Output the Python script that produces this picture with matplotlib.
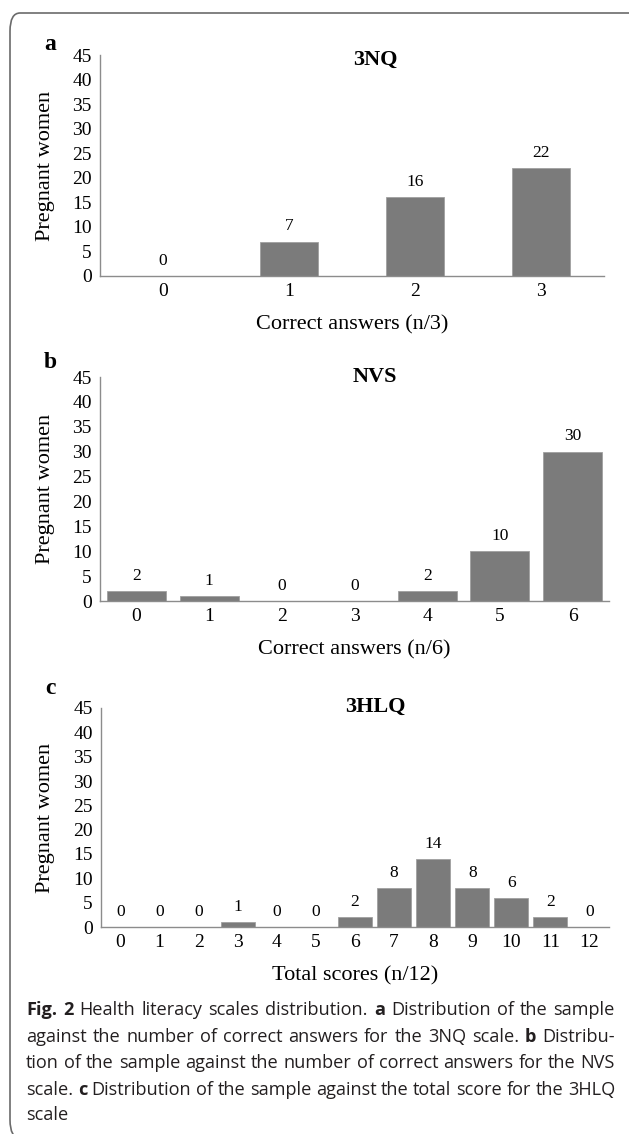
import matplotlib
matplotlib.use("Agg")
import matplotlib.pyplot as plt
from matplotlib.patches import FancyBboxPatch

# ---------------- data ----------------
a_cats = ["0", "1", "2", "3"]
a_vals = [0, 7, 16, 22]
b_cats = ["0", "1", "2", "3", "4", "5", "6"]
b_vals = [2, 1, 0, 0, 2, 10, 30]
c_cats = ["0", "1", "2", "3", "4", "5", "6", "7", "8", "9", "10", "11", "12"]
c_vals = [0, 0, 0, 1, 0, 0, 2, 8, 14, 8, 6, 2, 0]

titles = ["3NQ", "NVS", "3HLQ"]
letters = ["a", "b", "c"]
xlabels = ["Correct answers (n/3)", "Correct answers (n/6)", "Total scores (n/12)"]
ylabel = "Pregnant women"
yticks = [0, 5, 10, 15, 20, 25, 30, 35, 40, 45]

caption_lines = [
    [("Fig. 2", "bold"), ("Health literacy scales distribution.", "normal"), ("a", "bold"),
     ("Distribution of the sample", "normal")],
    [("against the number of correct answers for the 3NQ scale.", "normal"), ("b", "bold"),
     ("Distribu-", "normal")],
    [("tion of the sample against the number of correct answers for the NVS", "normal")],
    [("scale.", "normal"), ("c", "bold"),
     ("Distribution of the sample against the total score for the 3HLQ", "normal")],
    [("scale", "normal")],
]

# ---------------- layout ----------------
W, H = 629, 1134
fig = plt.figure(figsize=(W / 100, H / 100), dpi=100)

SERIF = "Liberation Serif"
CAP_FONT = "Open Sans"


def rect(l, r, t, b):
    return [l / W, 1 - b / H, (r - l) / W, (b - t) / H]


panels = [
    (a_cats, a_vals, rect(100, 604, 55, 276), 0.46, 60, 45),
    (b_cats, b_vals, rect(100, 609, 377, 601), 0.81, 377, 363),
    (c_cats, c_vals, rect(101, 609, 708, 927), 0.87, 707, 688),
]

BAR = "#7b7b7b"
SPINE = "#8c8c8c"

for i, (cats, vals, pos, bw, title_y, letter_y) in enumerate(panels):
    ax = fig.add_axes(pos)
    x = list(range(len(cats)))
    ax.bar(x, vals, width=bw, color=BAR, edgecolor="#a0a0a0", linewidth=0.6)
    ax.set_xlim(-0.5, len(cats) - 0.5)
    ax.set_ylim(0, 45)
    ax.set_yticks(yticks)
    ax.set_xticks(x)
    ax.set_xticklabels(cats)
    for s in ["top", "right"]:
        ax.spines[s].set_visible(False)
    for s in ["left", "bottom"]:
        ax.spines[s].set_color(SPINE)
        ax.spines[s].set_linewidth(1.0)
    ax.tick_params(axis="both", length=0, labelsize=14)
    ax.tick_params(axis="x", pad=5)
    ax.tick_params(axis="y", pad=6)
    for lab in ax.get_xticklabels() + ax.get_yticklabels():
        lab.set_fontfamily(SERIF)
    for xi, v in zip(x, vals):
        ax.annotate(str(v), (xi, v), xytext=(0, 11), textcoords="offset points",
                    ha="center", va="center", fontsize=12.5, family=SERIF)
    hpx = pos[3] * H
    wpx = pos[2] * W
    ax.set_ylabel(ylabel, fontsize=16, family=SERIF, ha="center", va="center")
    ax.yaxis.set_label_coords((46 - pos[0] * W) / wpx, 0.5)
    ax.set_xlabel(xlabels[i], fontsize=16, family=SERIF, ha="center", va="center")
    ax.xaxis.set_label_coords(0.5, -49 / hpx)
    fig.text(375 / W, 1 - title_y / H, titles[i], fontsize=16, fontweight="bold",
             family=SERIF, ha="center", va="center")
    fig.text(50 / W, 1 - letter_y / H, letters[i], fontsize=17, fontweight="bold",
             family=SERIF, ha="center", va="center")

# ---------------- border (open on right/bottom, clipped by the canvas) ----------------
box = FancyBboxPatch((10 / W, 1 - 1138 / H), (640 - 10) / W, (1138 - 13) / H,
                     boxstyle="round,pad=0,rounding_size=0.016",
                     transform=fig.transFigure, facecolor="none",
                     edgecolor="#6b6b6b", linewidth=1.2, clip_on=False)
fig.patches.append(box)

# ---------------- caption (justified) ----------------
renderer = fig.canvas.get_renderer()
left_px, right_px = 26, 615
line_ys = [1010, 1037, 1063, 1090, 1115]


def width_of(txt, weight, size):
    t = fig.text(0, 0, txt, fontsize=size, family=CAP_FONT, fontweight=weight)
    w = t.get_window_extent(renderer).width
    t.remove()
    return w


def words_of(segs):
    out = []
    for txt, wt in segs:
        for wd in txt.split(" "):
            out.append((wd, wt))
    return out


size = 12.0
ratios = []
for segs in caption_lines[:-1]:
    ws = words_of(segs)
    nat = sum(width_of(wd, wt, size) for wd, wt in ws)
    sp = width_of("a a", "normal", size) - 2 * width_of("a", "normal", size)
    nat += sp * (len(ws) - 1)
    ratios.append((right_px - left_px) / nat)
size = min(size * min(ratios), 13.5)

space_w = width_of("a a", "normal", size) - 2 * width_of("a", "normal", size)
for li, segs in enumerate(caption_lines):
    words = words_of(segs)
    widths = [width_of(wd, wt, size) for wd, wt in words]
    y = 1 - line_ys[li] / H
    if li < len(caption_lines) - 1 and len(words) > 1:
        gap = (right_px - left_px - sum(widths)) / (len(words) - 1)
    else:
        gap = space_w
    xpx = left_px
    for (wd, wt), w in zip(words, widths):
        fig.text(xpx / W, y, wd, fontsize=size, family=CAP_FONT, fontweight=wt,
                 ha="left", va="center", color="#231f20")
        xpx += w + gap

fig.savefig("out.png", dpi=100)
